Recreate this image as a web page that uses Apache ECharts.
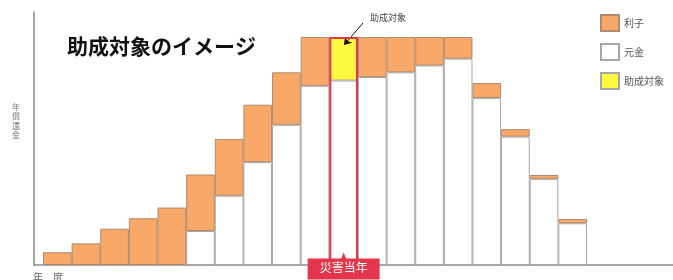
<!DOCTYPE html>
<html>
<head>
<meta charset="utf-8">
<script src="https://cdn.jsdelivr.net/npm/echarts@6/dist/echarts.min.js"></script>
<style>
html,body{margin:0;padding:0;background:#fff;}
#c{width:673px;height:280px;}
</style>
</head>
<body>
<div id="c"></div>
<script>
// ---- data ----
var categories = ['1','2','3','4','5','6','7','8','9','10','11','12','13','14','15','16','17','18','19'];
var tickLabels = ['','','','','','','','','','','災害当年','','','','','','','',''];
var principal = [0, 0, 0, 0, 0, 14.9, 30.4, 45.1, 61.5, 78.6, 80.9, 82.4, 84.5, 87.5, 90.5, 73.3, 56.3, 37.8, 18.3];
var interest  = [5.6, 9.5, 15.9, 20.5, 25.2, 24.8, 24.9, 25.2, 23.0, 21.4, '-', 17.6, 15.5, 12.5, 9.5, 6.5, 3.3, 1.7, 1.9];
var subsidy   = ['-', '-', '-', '-', '-', '-', '-', '-', '-', '-', 19.1, '-', '-', '-', '-', '-', '-', '-', '-'];
var disasterOutline = ['-', '-', '-', '-', '-', '-', '-', '-', '-', '-', 100, '-', '-', '-', '-', '-', '-', '-', '-'];
var seriesNames = ['利子', '元金', '助成対象'];

var RED = '#E3354B';
var chart = echarts.init(document.getElementById('c'), null, {renderer: 'canvas'});
var FONT = '"Noto Sans CJK JP", "Noto Sans", sans-serif';

chart.setOption({
  animation: false,
  backgroundColor: '#ffffff',
  textStyle: {fontFamily: FONT},
  title: {
    text: '助成対象のイメージ',
    left: 67, top: 36, padding: 0,
    textStyle: {fontSize: 21, fontWeight: 'bold', color: '#111', fontFamily: FONT}
  },
  legend: {
    data: seriesNames,
    orient: 'vertical',
    left: 600, top: 14,
    padding: 0,
    itemWidth: 18, itemHeight: 16, itemGap: 11,
    icon: 'rect',
    selectedMode: false,
    textStyle: {fontSize: 10, color: '#555', fontFamily: FONT}
  },
  grid: [
    {left: 43, width: 544, top: 37, height: 228, containLabel: false},
    {left: 34, right: 0, top: 12, height: 253, containLabel: false}
  ],
  xAxis: [
    {
      gridIndex: 0, type: 'category', data: categories, z: 20,
      axisLine: {show: false}, axisTick: {show: false}, splitLine: {show: false},
      axisLabel: {
        interval: 0, margin: -3, hideOverlap: false,
        formatter: function (v, i) { return tickLabels[i] ? '{d|' + tickLabels[i] + '}' : ''; },
        rich: {
          d: {
            color: '#fff', fontSize: 12, fontFamily: FONT,
            backgroundColor: RED, padding: [3, 12, 6, 12], lineHeight: 14
          }
        }
      }
    },
    {
      gridIndex: 1, type: 'value', min: 0, max: 1,
      axisLine: {show: true, lineStyle: {color: '#8a8a8a', width: 1.5}},
      axisTick: {show: false}, axisLabel: {show: false}, splitLine: {show: false}
    }
  ],
  yAxis: [
    {gridIndex: 0, type: 'value', min: 0, max: 100, show: false},
    {
      gridIndex: 1, type: 'value', min: 0, max: 1,
      axisLine: {show: true, lineStyle: {color: '#8a8a8a', width: 1.5}},
      axisTick: {show: false}, axisLabel: {show: false}, splitLine: {show: false}
    }
  ],
  graphic: [
    {type: 'text', left: 12, top: 102, style: {text: '年\n償\n還\n金', lineHeight: 9.5, fill: '#777', font: '8px ' + FONT}},
    {type: 'text', left: 33, top: 272, style: {text: '年　度', fill: '#666', font: '10px ' + FONT}},
    {type: 'text', left: 370, top: 13, style: {text: '助成対象', fill: '#444', font: '9px ' + FONT}}
  ],
  series: [
    {
      name: '元金', type: 'bar', stack: 'a', xAxisIndex: 0, yAxisIndex: 0,
      data: principal, barWidth: '100%', barGap: '-100%',
      itemStyle: {color: '#ffffff', borderColor: '#a6a6a6', borderWidth: 1}
    },
    {
      name: '利子', type: 'bar', stack: 'a', xAxisIndex: 0, yAxisIndex: 0,
      data: interest, barWidth: '100%',
      itemStyle: {color: '#F8A868', borderColor: '#b08a6c', borderWidth: 1}
    },
    {
      name: '助成対象', type: 'bar', stack: 'a', xAxisIndex: 0, yAxisIndex: 0,
      data: subsidy, barWidth: '100%',
      itemStyle: {color: '#FDF940', borderColor: '#a6a6a6', borderWidth: 1}
    },
    {
      name: 'outline', type: 'bar', xAxisIndex: 0, yAxisIndex: 0,
      data: disasterOutline, barWidth: '100%', barGap: '-100%', z: 5,
      itemStyle: {color: 'rgba(0,0,0,0)', borderColor: RED, borderWidth: 2},
      markPoint: {
        silent: true,
        symbol: 'triangle', symbolSize: [9, 11], symbolOffset: [0, -7],
        itemStyle: {color: RED},
        label: {show: false},
        data: [{coord: [10, 0]}]
      },
      markLine: {
        silent: true,
        symbol: ['none', 'arrow'], symbolSize: 7,
        lineStyle: {color: '#111', width: 1, type: 'solid'},
        label: {show: false},
        data: [[{x: 363, y: 23}, {x: 344, y: 45}]]
      }
    }
  ]
});
</script>
</body>
</html>
